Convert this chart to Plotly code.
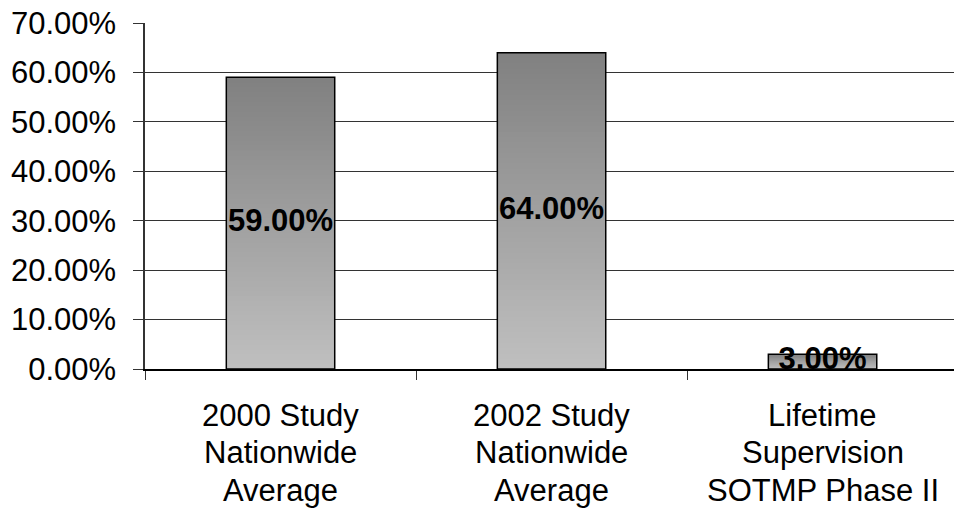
import plotly.graph_objects as go

# Data
categories = [
    "2000 Study Nationwide Average",
    "2002 Study Nationwide Average",
    "Lifetime Supervision SOTMP Phase II",
]
category_lines = [
    ["2000 Study", "Nationwide", "Average"],
    ["2002 Study", "Nationwide", "Average"],
    ["Lifetime", "Supervision", "SOTMP Phase II"],
]
values = [59.0, 64.0, 3.0]  # percent

FONT = "Liberation Sans, Arial, sans-serif"
TOP_GRAY = 0x80
BOTTOM_GRAY = 0xC0
N_STEPS = 60

fig = go.Figure()

# Vertical gradient fill: nested bars, tallest (darkest) first, each shorter
# one drawn on top in a lighter shade so no seams appear between slices.
for k in range(N_STEPS):
    frac = (N_STEPS - k) / N_STEPS
    t = (N_STEPS - k - 0.5) / N_STEPS
    g = round(BOTTOM_GRAY + (TOP_GRAY - BOTTOM_GRAY) * t)
    fig.add_trace(go.Bar(
        x=categories,
        y=[v * frac for v in values],
        width=0.4,
        marker=dict(color=f"rgb({g},{g},{g})", line=dict(width=0)),
        hoverinfo="skip",
        showlegend=False,
    ))

# Bar outlines
fig.add_trace(go.Bar(
    x=categories,
    y=values,
    width=0.4,
    marker=dict(color="rgba(0,0,0,0)", line=dict(color="black", width=1.5)),
    showlegend=False,
))

# Value labels centred in each bar
fig.add_trace(go.Scatter(
    x=categories,
    y=[v / 2 for v in values],
    mode="text",
    text=[f"<b>{v:.2f}%</b>" for v in values],
    textposition="middle center",
    textfont=dict(family=FONT, size=31, color="black"),
    showlegend=False,
))

# Category labels, one annotation per line for tight line spacing
LINE_GAP = 37.5
for cat, lines in zip(categories, category_lines):
    for i, line in enumerate(lines):
        fig.add_annotation(
            x=cat, xref="x",
            y=0, yref="paper",
            yanchor="middle",
            yshift=-(46 + i * LINE_GAP),
            text=line,
            showarrow=False,
            font=dict(family=FONT, size=31, color="black"),
        )

fig.update_layout(
    barmode="overlay",
    width=954,
    height=512,
    margin=dict(l=145, r=0, t=23, b=143),
    paper_bgcolor="white",
    plot_bgcolor="white",
    font=dict(family=FONT, color="black"),
    showlegend=False,
)

fig.update_xaxes(
    type="category",
    range=[-0.5, 2.485],
    tickson="boundaries",
    ticks="outside",
    ticklen=9,
    tickcolor="#333333",
    showticklabels=False,
    showline=True,
    linecolor="black",
    linewidth=1.5,
    showgrid=False,
    zeroline=False,
)

fig.update_yaxes(
    range=[0, 70],
    dtick=10,
    tickformat=".2f",
    ticksuffix="%",
    ticks="outside",
    ticklen=10,
    tickcolor="#333333",
    ticklabelstandoff=11,
    tickfont=dict(family=FONT, size=31, color="black"),
    showline=True,
    linecolor="#333333",
    linewidth=1.5,
    showgrid=True,
    gridcolor="#333333",
    gridwidth=1,
    zeroline=False,
)

fig.write_html("out.html")
